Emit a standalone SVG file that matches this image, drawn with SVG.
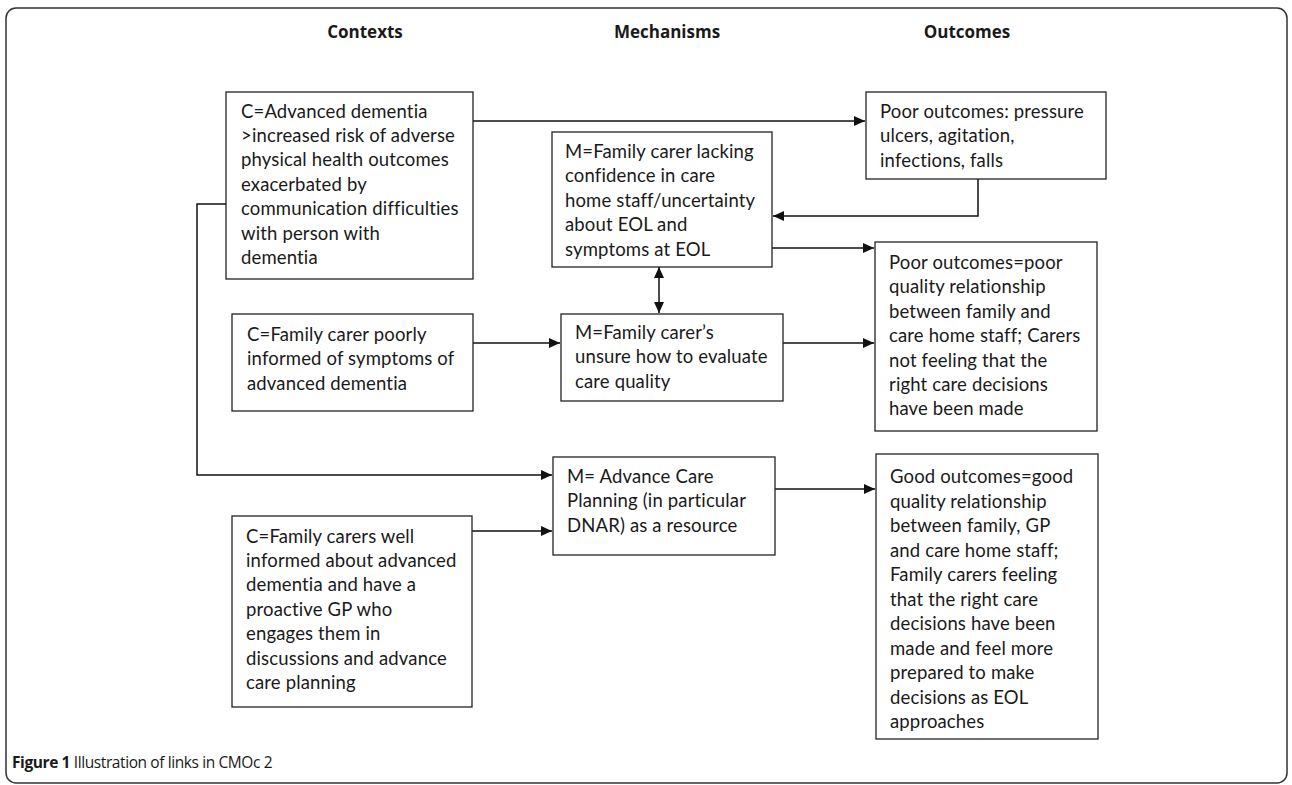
<svg xmlns="http://www.w3.org/2000/svg" width="1292" height="785" viewBox="0 0 1292 785">
<style>
.frame{fill:#fff;stroke:#333;stroke-width:1.5}
.box{fill:#fff;stroke:#222;stroke-width:1.3}
.t{font-family:Lato,"Liberation Sans",sans-serif;font-size:18.5px;letter-spacing:0.15px;fill:#1a1a1a;font-variant-ligatures:none;font-feature-settings:"liga" 0,"clig" 0}
.h{font-family:"Open Sans","Liberation Sans",sans-serif;font-size:17px;font-weight:bold;fill:#1a1a1a}
.cap{font-family:"Open Sans","Liberation Sans",sans-serif;font-size:15.5px;letter-spacing:-0.4px;fill:#1a1a1a}
.ln{fill:none;stroke:#111;stroke-width:1.5}
</style>
<defs>
<marker id="ah" markerUnits="userSpaceOnUse" markerWidth="12" markerHeight="10" refX="11" refY="5" orient="auto-start-reverse">
<path d="M0,0 L11,5 L0,10 Z" fill="#111"/>
</marker>
</defs>
<rect class="frame" x="6" y="8" width="1281" height="775" rx="10"/>
<g id="headers">
<text class="h" x="365" y="38" text-anchor="middle">Contexts</text>
<text class="h" x="667" y="38" text-anchor="middle">Mechanisms</text>
<text class="h" x="967" y="38" text-anchor="middle">Outcomes</text>
</g>
<g id="connectors">
<path class="ln" d="M473,121 H865" marker-end="url(#ah)"/>
<path class="ln" d="M978,179 V216 H773" marker-end="url(#ah)"/>
<path class="ln" d="M772,248 H874" marker-end="url(#ah)"/>
<path class="ln" d="M659,267 V313" marker-start="url(#ah)" marker-end="url(#ah)"/>
<path class="ln" d="M473,343 H560" marker-end="url(#ah)"/>
<path class="ln" d="M783,343 H874" marker-end="url(#ah)"/>
<path class="ln" d="M226,204 H197 V475 H552" marker-end="url(#ah)"/>
<path class="ln" d="M472,531 H552" marker-end="url(#ah)"/>
<path class="ln" d="M775,489 H875" marker-end="url(#ah)"/>
</g>
<g id="c1">
<rect class="box" x="226" y="92" width="247" height="187"/>
<text class="t" x="241" y="117.5">C=Advanced dementia</text>
<text class="t" x="241" y="141.9">&gt;increased risk of adverse</text>
<text class="t" x="241" y="166.3">physical health outcomes</text>
<text class="t" x="241" y="190.7">exacerbated by</text>
<text class="t" x="241" y="215.1">communication difficulties</text>
<text class="t" x="241" y="239.5">with person with</text>
<text class="t" x="241" y="263.9">dementia</text>
</g>
<g id="o1">
<rect class="box" x="866" y="92" width="240" height="87"/>
<text class="t" x="880" y="118">Poor outcomes: pressure</text>
<text class="t" x="880" y="142.4">ulcers, agitation,</text>
<text class="t" x="880" y="166.8">infections, falls</text>
</g>
<g id="m1">
<rect class="box" x="552" y="132" width="220" height="135"/>
<text class="t" x="565" y="157.5">M=Family carer lacking</text>
<text class="t" x="565" y="182">confidence in care</text>
<text class="t" x="565" y="206.5">home staff/uncertainty</text>
<text class="t" x="565" y="231">about EOL and</text>
<text class="t" x="565" y="255.5">symptoms at EOL</text>
</g>
<g id="o2">
<rect class="box" x="875" y="242" width="222" height="189"/>
<text class="t" x="889" y="269">Poor outcomes=poor</text>
<text class="t" x="889" y="293.4">quality relationship</text>
<text class="t" x="889" y="317.8">between family and</text>
<text class="t" x="889" y="342.2">care home staff; Carers</text>
<text class="t" x="889" y="366.6">not feeling that the</text>
<text class="t" x="889" y="391">right care decisions</text>
<text class="t" x="889" y="415.4">have been made</text>
</g>
<g id="c2">
<rect class="box" x="232" y="314" width="241" height="97"/>
<text class="t" x="247" y="341">C=Family carer poorly</text>
<text class="t" x="247" y="365.4">informed of symptoms of</text>
<text class="t" x="247" y="389.8">advanced dementia</text>
</g>
<g id="m2">
<rect class="box" x="561" y="314" width="222" height="87"/>
<text class="t" x="575" y="339">M=Family carer’s</text>
<text class="t" x="575" y="363.4">unsure how to evaluate</text>
<text class="t" x="575" y="387.8">care quality</text>
</g>
<g id="m3">
<rect class="box" x="553" y="457" width="222" height="98"/>
<text class="t" x="567" y="483">M= Advance Care</text>
<text class="t" x="567" y="507.4">Planning (in particular</text>
<text class="t" x="567" y="531.8">DNAR) as a resource</text>
</g>
<g id="c3">
<rect class="box" x="232" y="516" width="240" height="191"/>
<text class="t" x="246" y="542.5">C=Family carers well</text>
<text class="t" x="246" y="566.9">informed about advanced</text>
<text class="t" x="246" y="591.3">dementia and have a</text>
<text class="t" x="246" y="615.7">proactive GP who</text>
<text class="t" x="246" y="640.1">engages them in</text>
<text class="t" x="246" y="664.5">discussions and advance</text>
<text class="t" x="246" y="688.9">care planning</text>
</g>
<g id="o3">
<rect class="box" x="876" y="454" width="222" height="285"/>
<text class="t" x="890" y="483">Good outcomes=good</text>
<text class="t" x="890" y="507.5">quality relationship</text>
<text class="t" x="890" y="532">between family, GP</text>
<text class="t" x="890" y="556.5">and care home staff;</text>
<text class="t" x="890" y="581">Family carers feeling</text>
<text class="t" x="890" y="605.5">that the right care</text>
<text class="t" x="890" y="630">decisions have been</text>
<text class="t" x="890" y="654.5">made and feel more</text>
<text class="t" x="890" y="679">prepared to make</text>
<text class="t" x="890" y="703.5">decisions as EOL</text>
<text class="t" x="890" y="728">approaches</text>
</g>
<g id="caption">
<text class="cap" x="12" y="768"><tspan font-weight="bold">Figure 1</tspan> Illustration of links in CMOc 2</text>
</g>
</svg>
